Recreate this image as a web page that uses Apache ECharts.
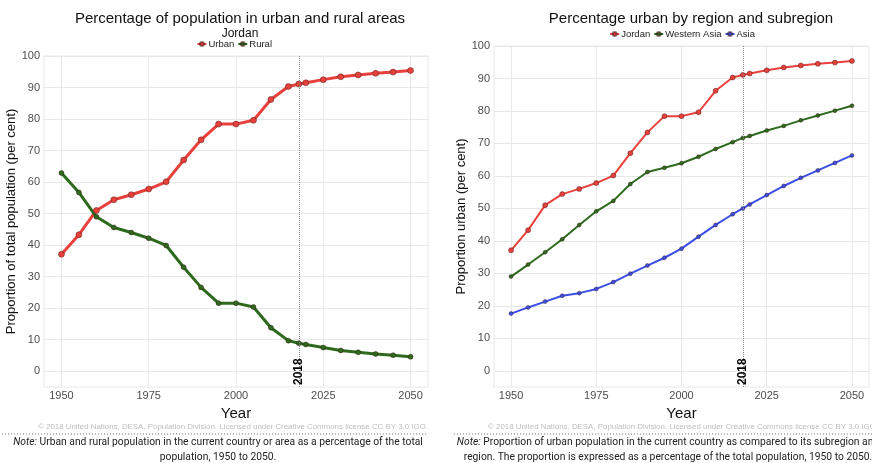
<!DOCTYPE html>
<html>
<head>
<meta charset="utf-8">
<script src="https://cdn.jsdelivr.net/npm/echarts@6/dist/echarts.min.js"></script>
<style>
  html, body { margin: 0; padding: 0; background: #fff; }
  #chart { width: 872px; height: 463px; }
</style>
</head>
<body>
<div id="chart"></div>
<script>
// years of the estimates / projections (2018 is the current year)
var years = [1950, 1955, 1960, 1965, 1970, 1975, 1980, 1985, 1990, 1995, 2000,
             2005, 2010, 2015, 2018, 2020, 2025, 2030, 2035, 2040, 2045, 2050];

// Jordan, per cent urban
var urbanJordan = [37.1, 43.3, 51.0, 54.4, 56.0, 57.8, 60.1, 67.0, 73.4, 78.4, 78.4,
                   79.6, 86.2, 90.3, 91.1, 91.5, 92.5, 93.4, 94.0, 94.5, 94.9, 95.4];
// Jordan, per cent rural
var ruralJordan = [62.9, 56.7, 49.0, 45.6, 44.0, 42.2, 39.9, 33.0, 26.6, 21.6, 21.6,
                   20.4, 13.8, 9.7, 8.9, 8.5, 7.5, 6.6, 6.0, 5.5, 5.1, 4.6];
// Western Asia, per cent urban
var urbanWesternAsia = [29.0, 32.7, 36.5, 40.5, 44.9, 49.1, 52.3, 57.5, 61.2, 62.5, 63.9,
                        65.9, 68.3, 70.4, 71.7, 72.3, 74.0, 75.4, 77.1, 78.6, 80.1, 81.6];
// Asia, per cent urban
var urbanAsia = [17.6, 19.5, 21.3, 23.1, 23.9, 25.2, 27.3, 29.9, 32.4, 34.8, 37.6,
                 41.3, 44.9, 48.2, 50.0, 51.2, 54.1, 56.9, 59.4, 61.7, 64.0, 66.3];

var xTicks = [1950, 1975, 2000, 2025, 2050];
var yTicks = [0, 10, 20, 30, 40, 50, 60, 70, 80, 90, 100];
var currentYear = 2018;

var RED = '#e8413c', GREEN = '#2e6a1e', BLUE = '#3b4ee6';
var GRID = '#e8e8e8';
var FONT = 'Liberation Sans';

function pairs(vals) {
    return years.map(function (y, i) { return [y, vals[i]]; });
}

function xAxisFor(idx) {
    return {
        type: 'value', gridIndex: idx, min: 1945, max: 2055, interval: 5,
        name: 'Year', nameLocation: 'middle', nameGap: 16,
        nameTextStyle: { fontFamily: FONT, fontSize: 15, color: '#111' },
        axisLine: { show: false }, axisTick: { show: false },
        axisLabel: {
            fontFamily: FONT, fontSize: 11, color: '#4d4d4d', margin: 3,
            formatter: function (v) { return xTicks.indexOf(v) >= 0 ? String(v) : ''; }
        },
        splitLine: { show: true, lineStyle: { width: 1, color: ['rgba(0,0,0,0)', GRID, 'rgba(0,0,0,0)', 'rgba(0,0,0,0)', 'rgba(0,0,0,0)'] } }
    };
}

function yAxisFor(idx, title, gap) {
    return {
        type: 'value', gridIndex: idx, min: -5, max: 100, interval: 5,
        name: title, nameLocation: 'middle', nameGap: gap, nameRotate: 90,
        nameTextStyle: { fontFamily: FONT, fontSize: 13, color: '#111' },
        axisLine: { show: false }, axisTick: { show: false },
        axisLabel: {
            fontFamily: FONT, fontSize: 11, color: '#4d4d4d', margin: 4,
            formatter: function (v) { return yTicks.indexOf(v) >= 0 ? String(v) : ''; }
        },
        splitLine: { show: true, lineStyle: { width: 1, color: ['rgba(0,0,0,0)', GRID] } }
    };
}

var nowLine = {
    silent: true, symbol: 'none',
    lineStyle: { type: 'dotted', color: '#888', width: 1 },
    label: {
        show: true, formatter: String(currentYear), position: 'insideStart', distance: 2,
        fontFamily: FONT, fontSize: 12, fontWeight: 'bold', color: '#000'
    },
    data: [{ xAxis: currentYear }]
};

function lineSeries(name, vals, color, idx, width, size, withNow) {
    var s = {
        name: name, type: 'line', xAxisIndex: idx, yAxisIndex: idx,
        data: pairs(vals),
        symbol: 'circle', symbolSize: size,
        lineStyle: { color: color, width: width },
        itemStyle: { color: color, borderColor: 'rgba(60,20,20,0.55)', borderWidth: 0.8 },
        z: 3
    };
    if (withNow) s.markLine = nowLine;
    return s;
}

var noteStyle = {
    fontFamily: 'Roboto', fontSize: 10.3, fill: '#222', textAlign: 'center', lineHeight: 15,
    rich: { i: { fontFamily: 'Roboto', fontStyle: 'italic', fontSize: 10.3, fill: '#222' } }
};

var legendText = { fontFamily: FONT, fontSize: 9.5, color: '#222', padding: [0, 0, 0, -3] };

var option = {
    animation: false,
    backgroundColor: '#fff',
    title: [
        { text: 'Percentage of population in urban and rural areas', left: 235, top: 6, textAlign: 'center',
          textStyle: { fontFamily: FONT, fontSize: 15, fontWeight: 'normal', color: '#111' },
          subtext: 'Jordan', itemGap: 2,
          subtextStyle: { fontFamily: FONT, fontSize: 12, color: '#111' } },
        { text: 'Percentage urban by region and subregion', left: 686, top: 6, textAlign: 'center',
          textStyle: { fontFamily: FONT, fontSize: 15, fontWeight: 'normal', color: '#111' } }
    ],
    legend: [
        { data: ['Urban', 'Rural'], right: 872 - 277, top: 34, itemWidth: 9, itemHeight: 5, itemGap: 3,
          textStyle: legendText },
        { data: ['Jordan', 'Western Asia', 'Asia'], right: 872 - 760, top: 24, itemWidth: 9, itemHeight: 5, itemGap: 3,
          textStyle: legendText }
    ],
    grid: [
        { left: 44, top: 56, width: 384, height: 331, show: true, borderColor: GRID, borderWidth: 1 },
        { left: 494, top: 46, width: 383, height: 341, show: true, borderColor: GRID, borderWidth: 1 }
    ],
    xAxis: [xAxisFor(0), xAxisFor(1)],
    yAxis: [yAxisFor(0, 'Proportion of total population (per cent)', 22), yAxisFor(1, 'Proportion urban (per cent)', 22)],
    series: [
        lineSeries('Urban', urbanJordan, RED, 0, 3, 6, true),
        lineSeries('Rural', ruralJordan, GREEN, 0, 3, 5, false),
        lineSeries('Jordan', urbanJordan, RED, 1, 2, 5, true),
        lineSeries('Western Asia', urbanWesternAsia, GREEN, 1, 2, 4, false),
        lineSeries('Asia', urbanAsia, BLUE, 1, 2, 4, false)
    ],
    graphic: [
        { type: 'text', left: 38, top: 423,
          style: { text: '\u00a9 2018 United Nations, DESA, Population Division. Licensed under Creative Commons license CC BY 3.0 IGO.',
                   fontFamily: FONT, fontSize: 7.9, fill: '#bdbdbd' } },
        { type: 'text', left: 488, top: 423,
          style: { text: '\u00a9 2018 United Nations, DESA, Population Division. Licensed under Creative Commons license CC BY 3.0 IGO.',
                   fontFamily: FONT, fontSize: 7.9, fill: '#bdbdbd' } },
        { type: 'line', shape: { x1: 2, y1: 434, x2: 428, y2: 434 },
          style: { stroke: '#777', lineWidth: 1, lineDash: [1, 2] } },
        { type: 'line', shape: { x1: 454, y1: 434, x2: 872, y2: 434 },
          style: { stroke: '#777', lineWidth: 1, lineDash: [1, 2] } },
        { type: 'text', x: 218, y: 434.5,
          style: Object.assign({}, noteStyle, { text: '{i|Note:} Urban and rural population in the current country or area as a percentage of the total\npopulation, 1950 to 2050.' }) },
        { type: 'text', x: 668, y: 434.5,
          style: Object.assign({}, noteStyle, { text: '{i|Note:} Proportion of urban population in the current country as compared to its subregion and\nregion. The proportion is expressed as a percentage of the total population, 1950 to 2050.' }) }
    ]
};

var myChart = echarts.init(document.getElementById('chart'));
myChart.setOption(option);
</script>
</body>
</html>
